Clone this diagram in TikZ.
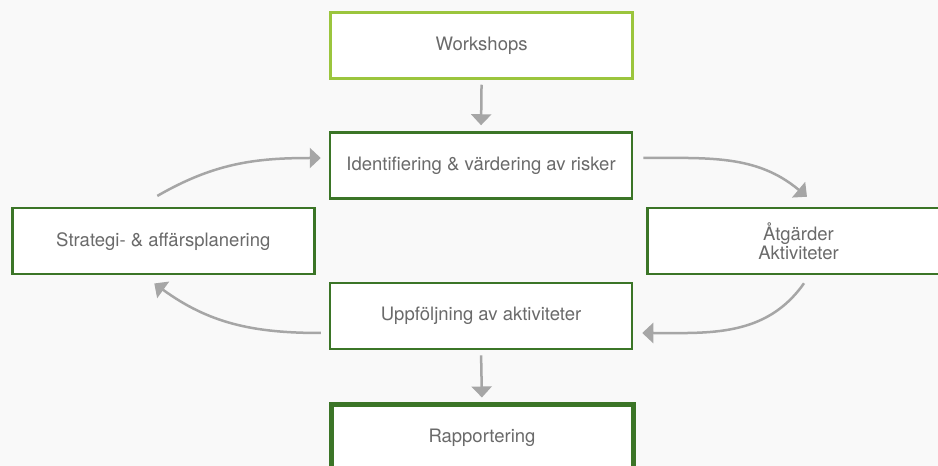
\documentclass[tikz,border=0pt]{standalone}
\usepackage{fontspec}
\setmainfont{TeX Gyre Heros}
\usetikzlibrary{arrows.meta, positioning}

\definecolor{bgGray}{HTML}{F9F9F9}
\definecolor{lightGreen}{HTML}{9BC53D}
\definecolor{darkGreen}{HTML}{3B7527}
\definecolor{arrowGray}{HTML}{A6A6A6}
\definecolor{textGray}{HTML}{6A6A6A}

\begin{document}
\begin{tikzpicture}[x=1pt, y=1pt, >={Triangle[width=20pt, length=11pt]},
    stagebox/.style={draw=darkGreen, line width=2.5pt, fill=white, minimum width=302pt, minimum height=66pt,
        align=center, text=textGray, font=\fontsize{18.5}{19}\selectfont, inner sep=0pt},
    flow/.style={->, draw=arrowGray, line width=2.5pt}]
        % --- Hintergrund ---
        \fill[bgGray] (0, 0) rectangle (938, 466);
        \clip (0, 0) rectangle (938, 466);

        % --- Boxar ---
        \node[stagebox, draw=lightGreen] (work) at (481.6, 420.5) {Workshops};
        \node[stagebox] (ident) at (481, 300.5) {Identifiering \& värdering av risker};
        \node[stagebox] (strat) at (163.3, 224.8) {Strategi- \& affärsplanering};
        \node[stagebox] (atg) at (798.5, 225) {Åtgärder\\Aktiviteter};
        \node[stagebox] (uppf) at (481, 149.8) {Uppföljning av aktiviteter};
        \node[stagebox, line width=5pt] (rapp) at (482, 28) {Rapportering};

        % --- Pilar rakt ned ---
        \draw[flow, shorten <=5pt, shorten >=6pt] (work.south) -- (ident.north);
        \draw[flow, shorten <=5pt, shorten >=5pt] (uppf.south) -- (rapp.north);

        % --- Kretslopp ---
        \draw[flow] ([shift={(-6pt, 11pt)}]strat.north) to[out=30, in=180] ([shift={(-8pt, 7.5pt)}]ident.west);
        \draw[flow] ([shift={(10pt, 7.5pt)}]ident.east) to[out=0, in=140] ([shift={(8.5pt, 10pt)}]atg.north);
        \draw[flow] ([shift={(5.5pt, -8pt)}]atg.south) to[out=-125, in=0] ([shift={(9pt, -16.8pt)}]uppf.east);
        \draw[flow] ([shift={(-8pt, -16.8pt)}]uppf.west) to[out=180, in=-36] ([shift={(-9pt, -8pt)}]strat.south);
\end{tikzpicture}
\end{document}
